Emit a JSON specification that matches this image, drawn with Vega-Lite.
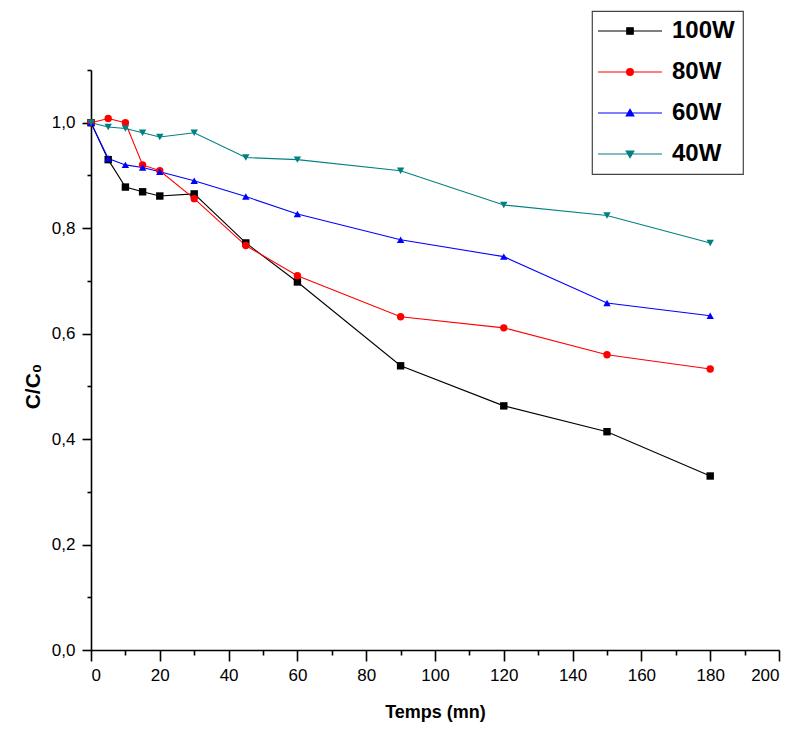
{
  "$schema": "https://vega.github.io/schema/vega-lite/v6.json",
  "width": 688,
  "height": 580,
  "autosize": {"type": "none"},
  "padding": {"left": 91, "top": 70, "right": 18, "bottom": 81},
  "background": "white",
  "config": {
    "view": {"stroke": null},
    "font": "Liberation Sans",
    "axis": {
      "grid": false,
      "domainColor": "black",
      "domainWidth": 1.6,
      "tickColor": "black",
      "tickWidth": 1.6,
      "labelFont": "Liberation Sans",
      "labelFontSize": 17,
      "labelColor": "black",
      "titleFont": "Liberation Sans",
      "titleColor": "black",
      "titleFontWeight": "bold"
    },
    "legend": {
      "orient": "none",
      "legendX": 501,
      "legendY": -59,
      "strokeColor": "#444",
      "strokeWidth": 1.2,
      "padding": 8,
      "labelFont": "Liberation Sans",
      "labelFontSize": 24,
      "labelFontWeight": "bold",
      "labelColor": "black",
      "symbolSize": 64,
      "symbolOffset": 18,
      "labelOffset": 30,
      "rowPadding": 17,
      "symbolStrokeWidth": 1.2
    }
  },
  "data": {
    "values": [
      {"t": 0, "c": 1.0, "p": "100W"},
      {"t": 5, "c": 0.930, "p": "100W"},
      {"t": 10, "c": 0.878, "p": "100W"},
      {"t": 15, "c": 0.869, "p": "100W"},
      {"t": 20, "c": 0.861, "p": "100W"},
      {"t": 30, "c": 0.865, "p": "100W"},
      {"t": 45, "c": 0.772, "p": "100W"},
      {"t": 60, "c": 0.698, "p": "100W"},
      {"t": 90, "c": 0.539, "p": "100W"},
      {"t": 120, "c": 0.463, "p": "100W"},
      {"t": 150, "c": 0.414, "p": "100W"},
      {"t": 180, "c": 0.330, "p": "100W"},
      {"t": 0, "c": 1.0, "p": "80W"},
      {"t": 5, "c": 1.008, "p": "80W"},
      {"t": 10, "c": 1.0, "p": "80W"},
      {"t": 15, "c": 0.920, "p": "80W"},
      {"t": 20, "c": 0.909, "p": "80W"},
      {"t": 30, "c": 0.856, "p": "80W"},
      {"t": 45, "c": 0.767, "p": "80W"},
      {"t": 60, "c": 0.710, "p": "80W"},
      {"t": 90, "c": 0.632, "p": "80W"},
      {"t": 120, "c": 0.611, "p": "80W"},
      {"t": 150, "c": 0.560, "p": "80W"},
      {"t": 180, "c": 0.533, "p": "80W"},
      {"t": 0, "c": 1.0, "p": "60W"},
      {"t": 5, "c": 0.932, "p": "60W"},
      {"t": 10, "c": 0.920, "p": "60W"},
      {"t": 15, "c": 0.915, "p": "60W"},
      {"t": 20, "c": 0.907, "p": "60W"},
      {"t": 30, "c": 0.890, "p": "60W"},
      {"t": 45, "c": 0.860, "p": "60W"},
      {"t": 60, "c": 0.827, "p": "60W"},
      {"t": 90, "c": 0.778, "p": "60W"},
      {"t": 120, "c": 0.746, "p": "60W"},
      {"t": 150, "c": 0.658, "p": "60W"},
      {"t": 180, "c": 0.634, "p": "60W"},
      {"t": 0, "c": 1.0, "p": "40W"},
      {"t": 5, "c": 0.992, "p": "40W"},
      {"t": 10, "c": 0.989, "p": "40W"},
      {"t": 15, "c": 0.981, "p": "40W"},
      {"t": 20, "c": 0.973, "p": "40W"},
      {"t": 30, "c": 0.981, "p": "40W"},
      {"t": 45, "c": 0.934, "p": "40W"},
      {"t": 60, "c": 0.930, "p": "40W"},
      {"t": 90, "c": 0.909, "p": "40W"},
      {"t": 120, "c": 0.844, "p": "40W"},
      {"t": 150, "c": 0.824, "p": "40W"},
      {"t": 180, "c": 0.772, "p": "40W"}
    ]
  },
  "encoding": {
    "x": {
      "field": "t",
      "type": "quantitative",
      "scale": {"domain": [0, 200], "nice": false},
      "axis": {
        "title": "Temps (mn)",
        "titleFontSize": 18,
        "titlePadding": 20,
        "values": [0,10,20,30,40,50,60,70,80,90,100,110,120,130,140,150,160,170,180,190,200],
        "labelExpr": "datum.value % 20 === 0 ? datum.label : ''",
        "tickSize": {"condition": {"test": "datum.value % 20 === 0", "value": 11}, "value": 5},
        "labelPadding": 6
      }
    },
    "y": {
      "field": "c",
      "type": "quantitative",
      "scale": {"domain": [0, 1.1], "nice": false},
      "axis": {
        "title": "C/C₀",
        "titleFontSize": 21,
        "titleY": 316,
        "titlePadding": 8,
        "values": [0,0.1,0.2,0.3,0.4,0.5,0.6,0.7,0.8,0.9,1.0,1.1],
        "labelExpr": "round(datum.value*10) % 2 === 0 ? replace(format(datum.value, '.1f'), '.', ',') : ''",
        "tickSize": {"condition": {"test": "round(datum.value*10) % 2 === 0", "value": 9}, "value": 4},
        "labelPadding": 7
      }
    },
    "color": {
      "field": "p",
      "type": "nominal",
      "scale": {"domain": ["100W", "80W", "60W", "40W"], "range": ["#000000", "#ff0000", "#0000ff", "#008080"]},
      "legend": {
        "title": null,
        "encode": {
          "symbols": {
            "update": {
              "shape": {"signal": "datum.value === '100W' ? 'M-8,0H8M-0.8,-0.8H0.8V0.8H-0.8Z' : datum.value === '80W' ? 'M-8,0H8M0.85,0A0.85,0.85 0 1,1 -0.85,0A0.85,0.85 0 1,1 0.85,0Z' : datum.value === '60W' ? 'M-8,0H8M0,-0.9L0.95,0.75H-0.95Z' : 'M-8,0H8M0,0.9L0.95,-0.75H-0.95Z'"},
              "fill": {"signal": "scale('color', datum.value)"},
              "stroke": {"signal": "scale('color', datum.value)"},
              "strokeWidth": {"value": 1.2},
              "opacity": {"value": 1}
            }
          }
        }
      }
    }
  },
  "layer": [
    {"mark": {"type": "line", "strokeWidth": 1.1}},
    {
      "transform": [{"filter": "datum.p === '100W'"}],
      "mark": {"type": "point", "shape": "square", "filled": true, "size": 55, "opacity": 1}
    },
    {
      "transform": [{"filter": "datum.p === '80W'"}],
      "mark": {"type": "point", "shape": "circle", "filled": true, "size": 55, "opacity": 1}
    },
    {
      "transform": [{"filter": "datum.p === '60W'"}],
      "mark": {"type": "point", "shape": "triangle-up", "filled": true, "size": 55, "opacity": 1}
    },
    {
      "transform": [{"filter": "datum.p === '40W'"}],
      "mark": {"type": "point", "shape": "triangle-down", "filled": true, "size": 55, "opacity": 1}
    }
  ]
}
